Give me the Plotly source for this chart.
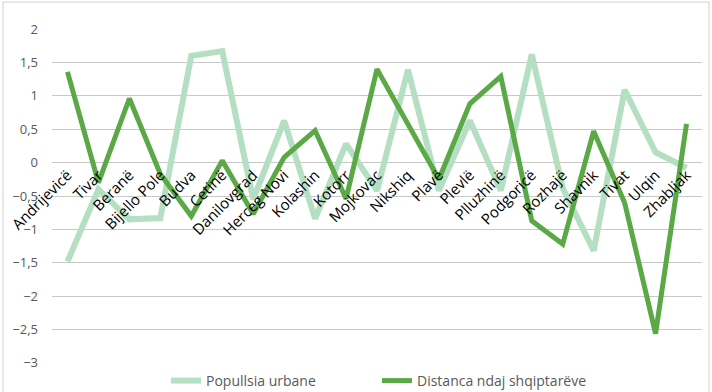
import plotly.graph_objects as go

categories = ["Andrijevicë", "Tivar", "Beranë", "Bijello Pole", "Budva", "Cetinë",
              "Danilovgrad", "Herceg Novi", "Kolashin", "Kotorr", "Mojkovac", "Nikshiq",
              "Plavë", "Plevlë", "Plluzhinë", "Podgoricë", "Rozhajë", "Shavnik",
              "Tivat", "Ulqin", "Zhabljak"]
popullsia_urbane = [-1.48, -0.40, -0.85, -0.83, 1.60, 1.67, -0.55, 0.63, -0.84, 0.28,
                    -0.42, 1.39, -0.42, 0.63, -0.42, 1.62, -0.38, -1.32, 1.09, 0.155, -0.08]
distanca = [1.36, -0.30, 0.96, -0.17, -0.80, 0.03, -0.77, 0.08, 0.48, -0.54,
            1.40, 0.58, -0.25, 0.88, 1.29, -0.87, -1.22, 0.47, -0.60, -2.56, 0.58]
y_ticks = [2, 1.5, 1, 0.5, 0, -0.5, -1, -1.5, -2, -2.5, -3]

W, H = 712, 392
L, R, T, B = 52, 10, 29, 29
ymin, ymax = -3, 2

fig = go.Figure()
fig.add_trace(go.Scatter(x=categories, y=popullsia_urbane, mode="lines",
                         name="Popullsia urbane",
                         line=dict(color="#b5dfc3", width=6)))
fig.add_trace(go.Scatter(x=categories, y=distanca, mode="lines",
                         name="Distanca ndaj shqiptarëve",
                         line=dict(color="#5aa846", width=5)))

pw = W - L - R
ph = H - T - B
def px_x(p):
    return (p - L) / pw
def px_y(p):
    return (H - B - p) / ph

fig.update_layout(
    width=W, height=H,
    margin=dict(l=L, r=R, t=T, b=B, autoexpand=False),
    paper_bgcolor="white", plot_bgcolor="white",
    separators=",.",
    font=dict(family="Open Sans", size=12, color="#595959"),
    xaxis=dict(type="category", anchor="free", automargin=False,
               position=(0 - ymin) / (ymax - ymin),
               tickangle=-45, showgrid=False, zeroline=False, showline=False,
               ticks="", tickfont=dict(color="#000000", size=15),
               range=[-0.5, len(categories) - 0.5]),
    yaxis=dict(range=[ymin - 0.001, ymax + 0.001], tickvals=y_ticks,
               automargin=False,
               showgrid=True, gridcolor="#c8c8c8", gridwidth=1,
               zeroline=False, showline=False, ticks="",
               ticklabelstandoff=13,
               tickfont=dict(color="#595959", size=13)),
    showlegend=True,
    legend=dict(orientation="h", x=px_x(166), xanchor="left",
                y=px_y(365), yanchor="top",
                entrywidth=166, font=dict(size=14, color="#595959"),
                bgcolor="rgba(0,0,0,0)"),
    shapes=[dict(type="rect", xref="paper", yref="paper",
                 x0=px_x(3), x1=px_x(709), y0=px_y(400), y1=px_y(2),
                 line=dict(color="#d0d0d0", width=1), layer="below")],
)

fig.write_html("out.html", config={"displayModeBar": False},
               post_script="document.body.style.margin='0';document.body.style.padding='0';")
